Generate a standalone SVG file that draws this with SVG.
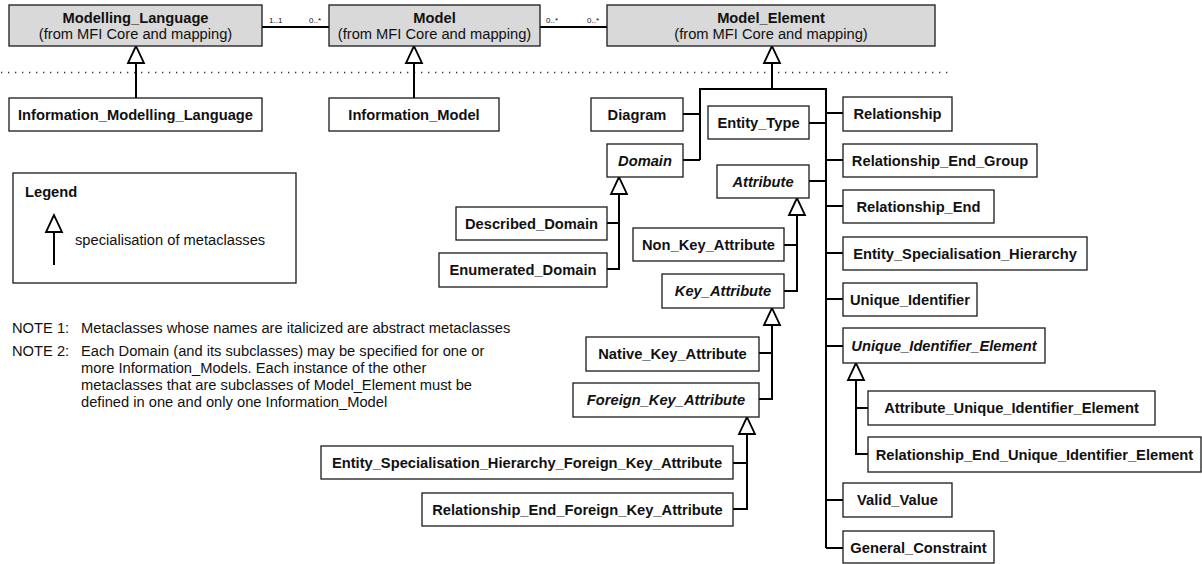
<svg xmlns="http://www.w3.org/2000/svg" width="1202" height="564" viewBox="0 0 1202 564">
  <style>
    .box { fill: #ffffff; stroke: #1a1a1a; stroke-width: 1.3; }
    .core { fill: #d9d9d9; stroke: #1a1a1a; stroke-width: 1.3; }
    .lbl { font-family: "Liberation Sans", Arial, sans-serif; font-size: 14.7px; font-weight: bold; fill: #111; text-anchor: middle; }
    .abs { font-style: italic; }
    .sub { font-family: "Liberation Sans", Arial, sans-serif; font-size: 14.7px; fill: #111; text-anchor: middle; }
    .txt { font-family: "Liberation Sans", Arial, sans-serif; font-size: 14.7px; fill: #111; }
    .mult { font-family: "Liberation Sans", Arial, sans-serif; font-size: 8px; fill: #111; }
    .ln { fill: none; stroke: #000; stroke-width: 2; }
    .tri { fill: #fff; stroke: #000; stroke-width: 1.8; stroke-linejoin: miter; }
    .dots { fill: none; stroke: #333; stroke-width: 1.3; stroke-dasharray: 1.3 5.7; }
  </style>

  <!-- separator between core metaclasses and the extension -->
  <line class="dots" x1="1" y1="72.5" x2="952" y2="72.5"/>

  <!-- connectors -->
  <g id="connectors">
    <!-- associations between core metaclasses -->
    <line class="ln" x1="262" y1="27" x2="329" y2="27"/>
    <line class="ln" x1="540" y1="27" x2="607" y2="27"/>
    <text class="mult" x="269" y="23">1..1</text>
    <text class="mult" x="309" y="23">0..*</text>
    <text class="mult" x="546" y="23">0..*</text>
    <text class="mult" x="587" y="23">0..*</text>

    <!-- Modelling_Language <- Information_Modelling_Language -->
    <line class="ln" x1="136" y1="63" x2="136" y2="98"/>
    <polygon class="tri" points="136,46 128,63 144,63"/>
    <!-- Model <- Information_Model -->
    <line class="ln" x1="414" y1="63" x2="414" y2="98"/>
    <polygon class="tri" points="414,46 406,63 422,63"/>
    <!-- Model_Element <- subclasses -->
    <line class="ln" x1="772" y1="63" x2="772" y2="89"/>
    <polygon class="tri" points="772,46 764,63 780,63"/>
    <path class="ln" d="M700,160 V89 H826 V548"/>
    <line class="ln" x1="683" y1="114" x2="700" y2="114"/>
    <line class="ln" x1="683" y1="160" x2="700" y2="160"/>
    <line class="ln" x1="809" y1="123" x2="826" y2="123"/>
    <line class="ln" x1="809" y1="181" x2="826" y2="181"/>
    <line class="ln" x1="826" y1="113" x2="843" y2="113"/>
    <line class="ln" x1="826" y1="160" x2="843" y2="160"/>
    <line class="ln" x1="826" y1="206" x2="843" y2="206"/>
    <line class="ln" x1="826" y1="253" x2="843" y2="253"/>
    <line class="ln" x1="826" y1="299" x2="843" y2="299"/>
    <line class="ln" x1="826" y1="346" x2="843" y2="346"/>
    <line class="ln" x1="826" y1="500" x2="843" y2="500"/>
    <line class="ln" x1="826" y1="548" x2="843" y2="548"/>

    <!-- Domain <- Described / Enumerated -->
    <path class="ln" d="M619,194 V269 H607 M607,223 H619"/>
    <polygon class="tri" points="619,177 611,194 627,194"/>
    <!-- Attribute <- Non_Key / Key -->
    <path class="ln" d="M797,215 V291 H784 M784,245 H797"/>
    <polygon class="tri" points="797,198 789,215 805,215"/>
    <!-- Key_Attribute <- Native / Foreign -->
    <path class="ln" d="M772,325 V399 H759 M759,353 H772"/>
    <polygon class="tri" points="772,308 764,325 780,325"/>
    <!-- Foreign_Key_Attribute <- subclasses -->
    <path class="ln" d="M747,434 V509 H733 M733,463 H747"/>
    <polygon class="tri" points="747,417 739,434 755,434"/>
    <!-- Unique_Identifier_Element <- subclasses -->
    <path class="ln" d="M856,380 V454 H868 M856,408 H868"/>
    <polygon class="tri" points="856,363 848,380 864,380"/>
  </g>

  <!-- core metaclasses -->
  <g id="Modelling_Language">
    <rect class="core" x="9" y="5" width="253" height="41"/>
    <text class="lbl" x="135.5" y="23">Modelling_Language</text>
    <text class="sub" x="135.5" y="39">(from MFI Core and mapping)</text>
  </g>
  <g id="Model">
    <rect class="core" x="329" y="5" width="211" height="41"/>
    <text class="lbl" x="434.5" y="23">Model</text>
    <text class="sub" x="434.5" y="39">(from MFI Core and mapping)</text>
  </g>
  <g id="Model_Element">
    <rect class="core" x="607" y="5" width="328" height="41"/>
    <text class="lbl" x="771" y="23">Model_Element</text>
    <text class="sub" x="771" y="39">(from MFI Core and mapping)</text>
  </g>

  <!-- extension metaclasses -->
  <g id="Information_Modelling_Language">
    <rect class="box" x="9" y="98" width="253" height="33"/>
    <text class="lbl" x="135.5" y="119.5">Information_Modelling_Language</text>
  </g>
  <g id="Information_Model">
    <rect class="box" x="329" y="98" width="170" height="33"/>
    <text class="lbl" x="414" y="119.5">Information_Model</text>
  </g>
  <g id="Diagram">
    <rect class="box" x="591" y="98" width="92" height="33"/>
    <text class="lbl" x="637" y="119.5">Diagram</text>
  </g>
  <g id="Entity_Type">
    <rect class="box" x="708" y="106" width="101" height="33"/>
    <text class="lbl" x="758.5" y="127.5">Entity_Type</text>
  </g>
  <g id="Domain">
    <rect class="box" x="607" y="144" width="76" height="33"/>
    <text class="lbl abs" x="645" y="165.5">Domain</text>
  </g>
  <g id="Attribute">
    <rect class="box" x="717" y="165" width="92" height="33"/>
    <text class="lbl abs" x="763" y="186.5">Attribute</text>
  </g>
  <g id="Described_Domain">
    <rect class="box" x="456" y="207" width="151" height="33"/>
    <text class="lbl" x="531.5" y="228.5">Described_Domain</text>
  </g>
  <g id="Enumerated_Domain">
    <rect class="box" x="439" y="253" width="168" height="34"/>
    <text class="lbl" x="523" y="274.5">Enumerated_Domain</text>
  </g>
  <g id="Non_Key_Attribute">
    <rect class="box" x="633" y="228" width="151" height="33"/>
    <text class="lbl" x="708.5" y="249.5">Non_Key_Attribute</text>
  </g>
  <g id="Key_Attribute">
    <rect class="box" x="662" y="274" width="122" height="34"/>
    <text class="lbl abs" x="723" y="296">Key_Attribute</text>
  </g>
  <g id="Native_Key_Attribute">
    <rect class="box" x="586" y="337" width="173" height="34"/>
    <text class="lbl" x="672.5" y="359">Native_Key_Attribute</text>
  </g>
  <g id="Foreign_Key_Attribute">
    <rect class="box" x="573" y="383" width="186" height="34"/>
    <text class="lbl abs" x="666" y="405">Foreign_Key_Attribute</text>
  </g>
  <g id="Entity_Specialisation_Hierarchy_Foreign_Key_Attribute">
    <rect class="box" x="321" y="446" width="412" height="33"/>
    <text class="lbl" x="527" y="467.5">Entity_Specialisation_Hierarchy_Foreign_Key_Attribute</text>
  </g>
  <g id="Relationship_End_Foreign_Key_Attribute">
    <rect class="box" x="422" y="493" width="311" height="33"/>
    <text class="lbl" x="577.5" y="514.5">Relationship_End_Foreign_Key_Attribute</text>
  </g>
  <g id="Relationship">
    <rect class="box" x="843" y="97" width="109" height="34"/>
    <text class="lbl" x="897.5" y="119">Relationship</text>
  </g>
  <g id="Relationship_End_Group">
    <rect class="box" x="843" y="144" width="194" height="33"/>
    <text class="lbl" x="940" y="165.5">Relationship_End_Group</text>
  </g>
  <g id="Relationship_End">
    <rect class="box" x="843" y="190" width="151" height="33"/>
    <text class="lbl" x="918.5" y="211.5">Relationship_End</text>
  </g>
  <g id="Entity_Specialisation_Hierarchy">
    <rect class="box" x="843" y="237" width="244" height="33"/>
    <text class="lbl" x="965" y="258.5">Entity_Specialisation_Hierarchy</text>
  </g>
  <g id="Unique_Identifier">
    <rect class="box" x="843" y="283" width="134" height="33"/>
    <text class="lbl" x="910" y="304.5">Unique_Identifier</text>
  </g>
  <g id="Unique_Identifier_Element">
    <rect class="box" x="843" y="328" width="202" height="35"/>
    <text class="lbl abs" x="944" y="350.5">Unique_Identifier_Element</text>
  </g>
  <g id="Attribute_Unique_Identifier_Element">
    <rect class="box" x="868" y="391" width="287" height="34"/>
    <text class="lbl" x="1011.5" y="413">Attribute_Unique_Identifier_Element</text>
  </g>
  <g id="Relationship_End_Unique_Identifier_Element">
    <rect class="box" x="868" y="437" width="333" height="35"/>
    <text class="lbl" x="1034.5" y="459.5">Relationship_End_Unique_Identifier_Element</text>
  </g>
  <g id="Valid_Value">
    <rect class="box" x="843" y="483" width="109" height="34"/>
    <text class="lbl" x="897.5" y="505">Valid_Value</text>
  </g>
  <g id="General_Constraint">
    <rect class="box" x="843" y="531" width="151" height="32"/>
    <text class="lbl" x="918.5" y="552.5">General_Constraint</text>
  </g>

  <!-- legend -->
  <g id="legend">
    <rect class="box" x="13" y="173" width="283" height="110"/>
    <text class="txt" x="25" y="197" font-weight="bold">Legend</text>
    <line class="ln" x1="54" y1="232" x2="54" y2="265"/>
    <polygon class="tri" points="54,215 46,232 62,232"/>
    <text class="txt" x="75" y="245">specialisation of metaclasses</text>
  </g>

  <!-- notes -->
  <g id="notes">
    <text class="txt" x="12" y="333">NOTE 1:</text>
    <text class="txt" x="81" y="333">Metaclasses whose names are italicized are abstract metaclasses</text>
    <text class="txt" x="12" y="356">NOTE 2:</text>
    <text class="txt" x="81" y="356">Each Domain (and its subclasses) may be specified for one or</text>
    <text class="txt" x="81" y="373">more Information_Models.  Each instance of the other</text>
    <text class="txt" x="81" y="390">metaclasses that are subclasses of Model_Element must be</text>
    <text class="txt" x="81" y="407">defined in one and only one Information_Model</text>
  </g>
</svg>
